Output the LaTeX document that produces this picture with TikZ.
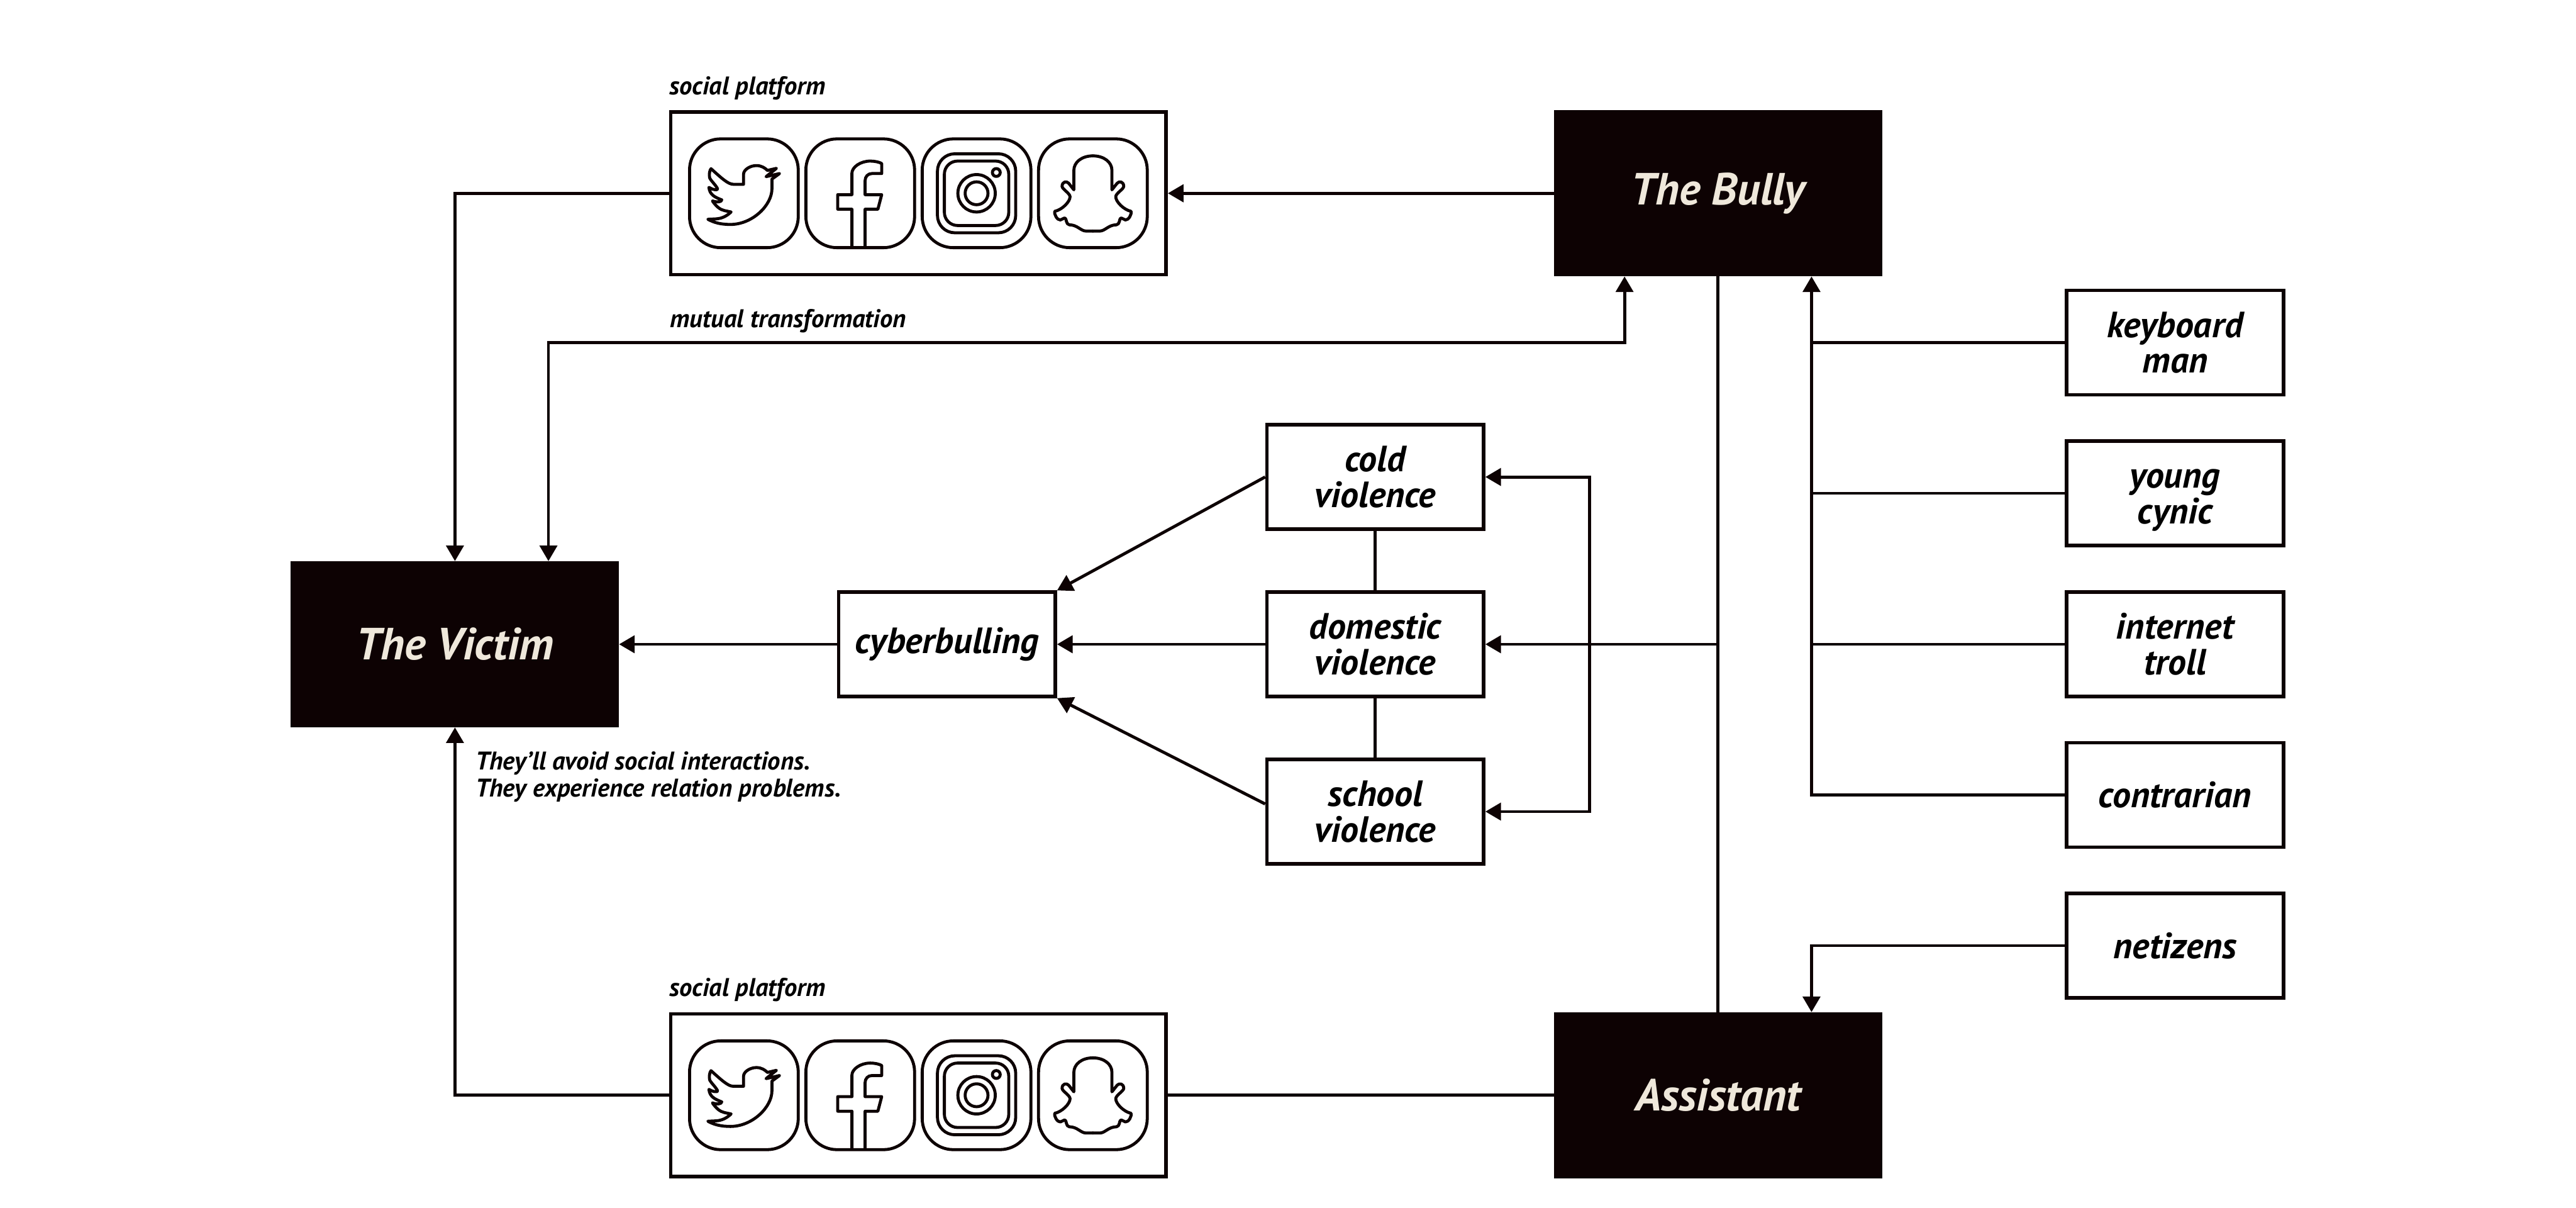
\documentclass[tikz,border=0pt]{standalone}
\usepackage{fontspec}
\setmainfont{PT Sans}
\usetikzlibrary{arrows.meta}
\definecolor{ink}{HTML}{0D0203}
\definecolor{cream}{HTML}{EFE8DB}
\tikzset{
  actor/.style={fill=ink,text=cream,minimum width=9.48cm,minimum height=4.8cm,inner sep=0,outer sep=0,
    font=\fontsize{37}{40}\selectfont\bfseries\itshape},
  kind/.style={draw=ink,line width=.1cm,minimum width=6.26cm,minimum height=3.01cm,inner sep=0,align=center,
    font=\fontsize{30}{29.3}\selectfont\bfseries\itshape},
  platform/.style={draw=ink,line width=.1cm,minimum width=14.31cm,minimum height=4.7cm,inner sep=0},
  remark/.style={anchor=base west,inner sep=0,font=\fontsize{21}{22.2}\selectfont\bfseries\itshape},
  wire/.style={draw=ink,line width=.088cm},
  feed/.style={wire,-{Triangle[length=.45cm,width=.5cm]}},
  feedboth/.style={wire,{Triangle[length=.45cm,width=.5cm]}-{Triangle[length=.45cm,width=.5cm]}},
  iconline/.style={draw=ink,line width=.087cm,line join=round},
  iconset/.pic={
    \foreach \x in {-5.04,-1.68,1.68,5.04}
    \draw[iconline,rounded corners=.9cm] (\x-1.57,-1.57) rectangle (\x+1.57,1.57);
    \begin{scope}[shift={(-5.04,0)}]
    \draw[iconline] (-.95,.71) .. controls (-.66,.45) and (-.46,.26) .. (-.31,.26) -- (-.01,.26) -- (-.01,.55)
      .. controls (-.01,.68) and (.18,.8) .. (.36,.8) .. controls (.51,.8) and (.61,.73) .. (.68,.66)
      -- (.94,.72) -- (.64,.48) -- (1.03,.57) -- (.81,.41) -- (.81,.13)
      .. controls (.81,-.35) and (.24,-.9) .. (-.39,-.9) .. controls (-.66,-.9) and (-.86,-.85) .. (-1.04,-.75)
      -- (-.82,-.74) .. controls (-.62,-.73) and (-.49,-.65) .. (-.37,-.54)
      -- (-.56,-.5) .. controls (-.69,-.47) and (-.79,-.39) .. (-.91,-.22)
      .. controls (-.77,-.27) and (-.64,-.25) .. (-.64,-.19) .. controls (-.82,-.12) and (-.99,-.05) .. (-1.01,.17)
      .. controls (-.91,.1) and (-.74,.08) .. (-.76,.13) .. controls (-.82,.25) and (-.97,.38) .. (-.99,.45)
      .. controls (-1.01,.55) and (-.99,.66) .. (-.95,.71) -- cycle;
    \end{scope}
    \begin{scope}[shift={(-1.68,0)}]
    \draw[iconline] (-.24,-1.57) -- (-.24,-.46) -- (-.65,-.46) -- (-.65,-.04) -- (-.24,-.04) -- (-.24,.58)
      .. controls (-.24,.75) and (0,.93) .. (.29,.93) .. controls (.42,.93) and (.55,.9) .. (.62,.86)
      -- (.62,.57) -- (.34,.57) .. controls (.22,.57) and (.14,.48) .. (.14,.36)
      -- (.14,-.04) -- (.62,-.04) -- (.51,-.46) -- (.14,-.46) -- (.14,-1.57);
    \end{scope}
    \begin{scope}[shift={(1.68,0)}]
    \draw[iconline,rounded corners=.5cm] (-1.13,-1.14) rectangle (1.13,1.14);
    \draw[iconline,rounded corners=.38cm] (-.93,-.93) rectangle (.93,.93);
    \draw[iconline] (0,0) circle (.54);
    \draw[iconline] (0,0) circle (.33);
    \draw[iconline] (.57,.6) circle (.113);
    \end{scope}
    \foreach \s in {1,-1}
    \draw[iconline,line cap=round,shift={(5.04,0)},xscale=\s] (0,1.08) .. controls (.32,1.08) and (.55,.9) .. (.55,.66)
      -- (.55,.1) -- (.7,.29) .. controls (.76,.36) and (.89,.34) .. (.89,.2)
      .. controls (.89,.12) and (.66,0) .. (.66,-.1) .. controls (.66,-.25) and (.9,-.48) .. (1.1,-.52)
      .. controls (1.13,-.6) and (1.03,-.78) .. (.94,-.77) .. controls (.88,-.76) and (.84,-.7) .. (.8,-.72)
      .. controls (.76,-.74) and (.78,-.9) .. (.68,-.91) .. controls (.45,-.91) and (.35,-1.09) .. (.2,-1.09) -- (0,-1.09);
  }
}
\begin{document}
\begin{tikzpicture}
\useasboundingbox (0,0) rectangle (74.4,-34.86);

\node[actor] (victim) at (13.14,-18.6) {The Victim};
\node[actor] (bully) at (49.62,-5.58) {The Bully};
\node[actor] (assistant) at (49.62,-31.62) {Assistant};

\node[platform] (toolstop) at (26.525,-5.58) {};
\node[platform] (toolsbottom) at (26.525,-31.62) {};
\pic at (toolstop.center) {iconset};
\pic at (toolsbottom.center) {iconset};

\node[kind] (cyber) at (27.35,-18.6) {cyberbulling};
\node[kind] (cold) at (39.72,-13.77) {cold\\violence};
\node[kind] (domestic) at (39.72,-18.6) {domestic\\violence};
\node[kind] (school) at (39.72,-23.43) {school\\violence};

\node[kind] (keyboard) at (62.82,-9.89) {keyboard\\man};
\node[kind] (young) at (62.82,-14.24) {\vphantom{l}young\\\smash{cynic}};
\node[kind] (internet) at (62.82,-18.6) {internet\\troll};
\node[kind] (contrarian) at (62.82,-22.95) {contrarian};
\node[kind] (netizens) at (62.82,-27.3) {netizens};

\node[remark] (labeltop) at (19.33,-2.73) {social platform};
\node[remark] (labelbottom) at (19.33,-28.77) {social platform};
\node[remark] (labelmutual) at (19.35,-9.45) {mutual transformation};
\node[remark,align=left,anchor=north west] (labelnote) at (13.73,-21.7) {They'll avoid social interactions.\\They experience relation problems.};

\coordinate (mutual) at ([xshift=-2.7cm]bully.south |- keyboard.west);
\coordinate (trunk) at ([xshift=2.7cm]bully.south);
\coordinate (bracket) at (45.91,-18.6);

\draw[feed] (bully.west) -- (toolstop.east);
\draw[feed] (toolstop.west) -| (victim.north);
\draw[wire] (assistant.west) -- (toolsbottom.east);
\draw[feed] (toolsbottom.west) -| (victim.south);
\draw[feedboth] ([xshift=2.7cm]victim.north) |- (mutual) -- ([xshift=-2.7cm]bully.south);
\draw[wire] (bully.south) -- (assistant.north);

\draw[feed] (cyber.west) -- (victim.east);
\draw[feed] (cold.west) -- (cyber.north east);
\draw[feed] (domestic.west) -- (cyber.east);
\draw[feed] ([yshift=.22cm]school.west) -- (cyber.south east);
\draw[wire] (cold.south) -- (domestic.north);
\draw[wire] (domestic.south) -- (school.north);
\draw[feed] (bully.south |- domestic.east) -- (domestic.east);
\draw[feedboth] (cold.east) -| (bracket) |- (school.east);

\foreach \role in {keyboard,young,internet}
\draw[wire] (\role.west) -- (trunk |- \role.west);
\draw[feed] (contrarian.west) -| (trunk);
\draw[feed] (netizens.west) -| ([xshift=2.7cm]assistant.north);
\end{tikzpicture}
\end{document}
